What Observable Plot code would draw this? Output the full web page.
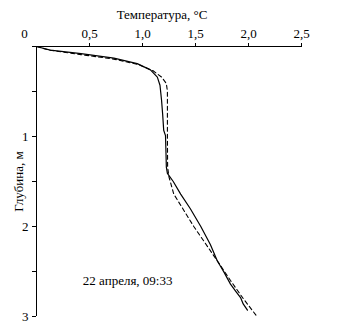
<!DOCTYPE html>
<html>
<head>
<meta charset="utf-8">
<script src="https://cdn.jsdelivr.net/npm/d3@7"></script>
<script src="https://cdn.jsdelivr.net/npm/@observablehq/plot@0.6"></script>
<style>
  body { margin: 0; background: #fff; }
  svg, svg text { font-family: "Liberation Serif", "Times New Roman", "DejaVu Serif", serif !important; }
</style>
</head>
<body>
<div id="chart"></div>
<script>
// Solid profile: depth (m) and temperature (°C)
const solidDepth = [0, 0.04, 0.08, 0.13, 0.19, 0.26, 0.34, 0.43, 0.6, 0.75, 0.93, 0.99, 1.2, 1.34, 1.41, 1.5, 1.64, 1.8, 2.0, 2.2, 2.38, 2.45, 2.51, 2.64, 2.72, 2.79, 2.86, 2.93];
const solidTemp  = [0, 0.13, 0.42, 0.73, 0.95, 1.075, 1.14, 1.165, 1.18, 1.19, 1.20, 1.217, 1.222, 1.225, 1.235, 1.29, 1.36, 1.45, 1.55, 1.64, 1.705, 1.74, 1.77, 1.83, 1.88, 1.925, 1.95, 1.99];
// Dashed profile
const dashDepth = [0, 0.04, 0.09, 0.14, 0.2, 0.27, 0.34, 0.41, 0.5, 1.0, 1.34, 1.45, 1.64, 2.0, 2.38, 2.6, 2.8, 3.0];
const dashTemp  = [0, 0.12, 0.42, 0.73, 0.96, 1.1, 1.18, 1.225, 1.235, 1.235, 1.237, 1.25, 1.295, 1.484, 1.705, 1.83, 1.95, 2.08];

const xTicks = [0.5, 1.0, 1.5, 2.0, 2.5];
const yTicks = [0, 0.5, 1, 1.5, 2, 2.5, 3];
const xTitle = "Температура, °C";
const yTitle = "Глубина, м";
const note = "22 апреля, 09:33";
const notePos = {t: 0.86, d: 2.6};

const solid = solidDepth.map((d, i) => ({d, t: solidTemp[i]}));
const dashed = dashDepth.map((d, i) => ({d, t: dashTemp[i]}));

const chart = Plot.plot({
  width: 339,
  height: 331,
  marginLeft: 36,
  marginRight: 38,
  marginTop: 46,
  marginBottom: 15,
  style: {fontSize: "13px", color: "#000", background: "#fff"},
  x: {domain: [0, 2.5], axis: null},
  y: {domain: [0, 3], reverse: true, axis: null},
  marks: [
    Plot.axisX({anchor: "top", ticks: xTicks, tickSize: 4, tickPadding: 5,
      tickFormat: d => d.toFixed(1).replace(".", ","), label: null, fontSize: 13}),
    Plot.axisY({anchor: "left", ticks: yTicks, tickSize: 4, tickPadding: 4,
      tickFormat: d => (Number.isInteger(d) && d > 0) ? String(d) : "", label: null, fontSize: 13}),
    Plot.text(["0"], {x: () => 0, y: () => 0, dx: -12, dy: -13, fontSize: 13}),
    Plot.ruleY([0], {stroke: "#000", strokeWidth: 1}),
    Plot.ruleX([0], {stroke: "#000", strokeWidth: 1}),
    Plot.text([xTitle], {frameAnchor: "top", lineAnchor: "middle", dx: -7, dy: -32, fontSize: 13}),
    Plot.text([yTitle], {x: () => 0, y: () => 1.5, dx: -18, rotate: -90, fontSize: 13}),
    Plot.text([note], {x: () => notePos.t, y: () => notePos.d, fontSize: 13}),
    Plot.line(dashed, {x: "t", y: "d", stroke: "#000", strokeWidth: 1.1, strokeDasharray: "4,3", curve: "linear"}),
    Plot.line(solid, {x: "t", y: "d", stroke: "#000", strokeWidth: 1.2, curve: "linear"})
  ]
});
document.getElementById("chart").appendChild(chart);
</script>
</body>
</html>
